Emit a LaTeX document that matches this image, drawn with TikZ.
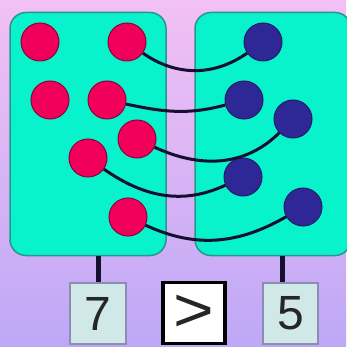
\documentclass[tikz,border=0pt]{standalone}
\usepackage{fontspec}
\setmainfont{Liberation Sans}
\usepackage{graphicx}
\usepackage{xcolor}
\definecolor{setfill}{RGB}{8,242,204}
\definecolor{setline}{RGB}{40,150,140}
\definecolor{redball}{RGB}{240,0,90}
\definecolor{blueball}{RGB}{45,40,150}
\definecolor{wire}{RGB}{22,16,48}
\definecolor{numfill}{RGB}{208,232,232}
\definecolor{numline}{RGB}{140,140,180}
\tikzstyle{setbox} = [draw=setline, line width=1.5pt, fill=setfill, rounded corners=16pt, inner sep=0pt]
\tikzstyle{reddot} = [circle, draw=redball!60!black, line width=1pt, fill=redball, minimum size=38pt, inner sep=0pt]
\tikzstyle{bluedot} = [circle, draw=blueball!70!black, line width=1pt, fill=blueball, minimum size=38pt, inner sep=0pt]
\tikzstyle{pair} = [wire, line width=3pt]
\tikzstyle{stem} = [wire, line width=5pt]
\tikzstyle{numbox} = [draw=numline, line width=1.5pt, fill=numfill, minimum height=61pt, inner sep=0pt, text=black!85, font=\fontsize{48}{48}\selectfont]

\begin{document}
\begin{tikzpicture}[x=1pt, y=1pt]
    % Background
    \shade[top color={rgb,255:red,242;green,192;blue,244}, bottom color={rgb,255:red,190;green,168;blue,246}] (0,0) rectangle (346,-347);
    \useasboundingbox (0,0) rectangle (346,-347);

    % The two sets
    \node[setbox, minimum width=156pt, minimum height=243pt] (lset) at (88,-134) {};
    \node[setbox, minimum width=156pt, minimum height=243pt] (rset) at (273,-134) {};

    % Red and blue members
    \foreach \n/\x/\y in {1/40/42, 2/127/42, 3/50/100, 4/107/100, 5/137/139, 6/88/158, 7/128/217} {
        \node[reddot] (r\n) at (\x,-\y) {};
    }
    \foreach \n/\x/\y in {1/263/42, 2/244/100, 3/293/119, 4/243/177, 5/303/207} {
        \node[bluedot] (b\n) at (\x,-\y) {};
    }

    % One-to-one pairing
    \draw[pair] (r2) to[out=-35, in=215] (b1);
    \draw[pair] (r4) to[out=-12, in=195] (b2);
    \draw[pair] (r5) to[out=-25, in=225] (b3);
    \draw[pair] (r6) to[out=-35, in=205] (b4);
    \draw[pair] (r7) to[out=-25, in=210] (b5);

    % Counts
    \node[numbox, minimum width=56pt] (n7) at (98,-313.5) {7};
    \node[numbox, minimum width=62pt, draw=black, line width=3.5pt, fill=white] (cmp) at (194,-313) {\scalebox{1.45}[1.3]{>}};
    \node[numbox, minimum width=55pt] (n5) at (290.5,-313.5) {5};

    \draw[stem] (n7.north) -- (n7.north |- lset.south);
    \draw[stem] ([xshift=-8pt]n5.north) -- ([xshift=-8pt]n5.north |- rset.south);
\end{tikzpicture}
\end{document}
